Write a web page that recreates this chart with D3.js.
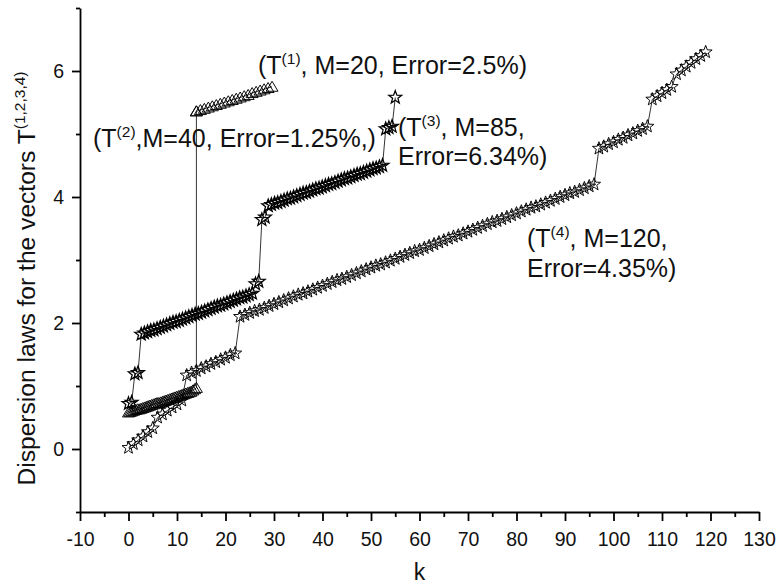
<!DOCTYPE html>
<html>
<head>
<meta charset="utf-8">
<script src="https://cdn.jsdelivr.net/npm/d3@7"></script>
<style>
  html, body { margin: 0; padding: 0; background: #fff; }
  svg { display: block; font-family: "Liberation Sans", Arial, sans-serif; }
</style>
</head>
<body>
<svg id="chart" width="777" height="586"></svg>
<script>
// ---------------- DATA ----------------
const xTicks = [-10, 0, 10, 20, 30, 40, 50, 60, 70, 80, 90, 100, 110, 120, 130];
const xMinorTicks = [-5, 5, 15, 25, 35, 45, 55, 65, 75, 85, 95, 105, 115, 125];
const yTicks = [0, 2, 4, 6];
const yMinorTicks = [-1, 1, 3, 5, 7];

// T(1), M=20 : upper triangles
const t1K = [14.00, 14.82, 15.64, 16.46, 17.28, 18.11, 18.93, 19.75, 20.57, 21.39,
             22.21, 23.03, 23.85, 24.67, 25.49, 26.32, 27.14, 27.96, 28.78, 29.60];
const t1V = [5.36, 5.38, 5.40, 5.42, 5.44, 5.46, 5.48, 5.50, 5.52, 5.54,
             5.56, 5.58, 5.60, 5.62, 5.65, 5.67, 5.69, 5.71, 5.73, 5.75];

// T(2), M=40 : lower triangles, then the jump
const t2K = [0.00, 0.37, 0.74, 1.11, 1.47, 1.84, 2.21, 2.58, 2.95, 3.32,
             3.68, 4.05, 4.42, 4.79, 5.16, 5.53, 5.89, 6.26, 6.63, 7.00,
             7.37, 7.74, 8.11, 8.47, 8.84, 9.21, 9.58, 9.95, 10.32, 10.68,
             11.05, 11.42, 11.79, 12.16, 12.53, 12.89, 13.26, 13.63, 14.00, 14.00];
const t2V = [0.58, 0.59, 0.60, 0.61, 0.62, 0.63, 0.63, 0.64, 0.65, 0.66,
             0.67, 0.68, 0.69, 0.70, 0.71, 0.72, 0.73, 0.73, 0.74, 0.75,
             0.76, 0.77, 0.78, 0.79, 0.80, 0.81, 0.82, 0.83, 0.84, 0.85,
             0.86, 0.87, 0.88, 0.89, 0.90, 0.91, 0.93, 0.95, 0.97, 5.36];

// T(3), M=85 : dense stars
const t3K = [0.00, 0.65, 1.31, 1.96, 2.62, 3.27, 3.93, 4.58, 5.24, 5.89,
             6.55, 7.20, 7.86, 8.51, 9.17, 9.82, 10.48, 11.13, 11.79, 12.44,
             13.10, 13.75, 14.40, 15.06, 15.71, 16.37, 17.02, 17.68, 18.33, 18.99,
             19.64, 20.30, 20.95, 21.61, 22.26, 22.92, 23.57, 24.23, 24.88, 25.54,
             26.19, 26.85, 27.50, 28.15, 28.81, 29.46, 30.12, 30.77, 31.43, 32.08,
             32.74, 33.39, 34.05, 34.70, 35.36, 36.01, 36.67, 37.32, 37.98, 38.63,
             39.29, 39.94, 40.60, 41.25, 41.90, 42.56, 43.21, 43.87, 44.52, 45.18,
             45.83, 46.49, 47.14, 47.80, 48.45, 49.11, 49.76, 50.42, 51.07, 51.73,
             52.38, 53.04, 53.69, 54.35, 55.00];
const t3V = [0.72, 0.74, 1.19, 1.21, 1.82, 1.84, 1.86, 1.88, 1.89, 1.91,
             1.93, 1.95, 1.97, 1.99, 2.01, 2.02, 2.04, 2.06, 2.08, 2.10,
             2.12, 2.14, 2.15, 2.17, 2.19, 2.21, 2.23, 2.25, 2.27, 2.28,
             2.30, 2.32, 2.34, 2.36, 2.38, 2.40, 2.41, 2.43, 2.45, 2.47,
             2.62, 2.66, 3.64, 3.68, 3.86, 3.88, 3.90, 3.91, 3.93, 3.95,
             3.97, 3.98, 4.00, 4.02, 4.04, 4.06, 4.07, 4.09, 4.11, 4.13,
             4.14, 4.16, 4.18, 4.20, 4.21, 4.23, 4.25, 4.27, 4.29, 4.30,
             4.32, 4.34, 4.36, 4.37, 4.39, 4.41, 4.43, 4.45, 4.46, 4.48,
             4.50, 5.08, 5.10, 5.12, 5.58];

// T(4), M=120 : open stars, k = 0..119
const t4V = [0.02, 0.08, 0.14, 0.20, 0.27, 0.33, 0.50, 0.55, 0.61, 0.66,
             0.71, 0.77, 1.17, 1.21, 1.24, 1.28, 1.31, 1.35, 1.38, 1.42,
             1.45, 1.49, 1.52, 2.10, 2.13, 2.16, 2.19, 2.21, 2.24, 2.27,
             2.30, 2.33, 2.36, 2.39, 2.42, 2.45, 2.47, 2.50, 2.53, 2.56,
             2.59, 2.62, 2.65, 2.68, 2.70, 2.73, 2.76, 2.79, 2.82, 2.85,
             2.88, 2.91, 2.93, 2.96, 2.99, 3.02, 3.05, 3.08, 3.11, 3.14,
             3.16, 3.19, 3.22, 3.25, 3.28, 3.31, 3.34, 3.37, 3.39, 3.42,
             3.45, 3.48, 3.51, 3.54, 3.57, 3.60, 3.62, 3.65, 3.68, 3.71,
             3.74, 3.77, 3.80, 3.83, 3.85, 3.88, 3.91, 3.94, 3.97, 4.00,
             4.03, 4.06, 4.08, 4.11, 4.14, 4.17, 4.20, 4.77, 4.80, 4.84,
             4.87, 4.91, 4.94, 4.98, 5.01, 5.05, 5.08, 5.12, 5.55, 5.60,
             5.65, 5.70, 5.75, 5.95, 6.01, 6.07, 6.13, 6.19, 6.24, 6.30];
const t4K = t4V.map((_, i) => i);

// ---------------- CHART ----------------
const svg = d3.select("#chart");
const x = d3.scaleLinear().domain([-10, 130]).range([80, 759]);
const y = d3.scaleLinear().domain([-1, 7]).range([512, 8]);

const FONT = '"Liberation Sans", Arial, sans-serif';

// markers
const triPath = "M0,-5.5L6,4.5L-6,4.5Z";
function starPath(R, r) {
  let p = "";
  for (let i = 0; i < 10; i++) {
    const rad = i % 2 === 0 ? R : r;
    const a = -Math.PI / 2 + i * Math.PI / 5;
    p += (i === 0 ? "M" : "L") + (rad * Math.cos(a)).toFixed(2) + "," + (rad * Math.sin(a)).toFixed(2);
  }
  return p + "Z";
}
const starD = starPath(6.8, 2.8);

const line = d3.line().x(d => x(d[0])).y(d => y(d[1]));
const zip = (ks, vs) => ks.map((k, i) => [k, vs[i]]);

const series = [
  { pts: zip(t4K, t4V), marker: starD, sw: 0.95 },
  { pts: zip(t3K, t3V), marker: starD, sw: 1.25 },
  { pts: zip(t2K, t2V), marker: triPath, sw: 0.95 },
  { pts: zip(t1K, t1V), marker: triPath, sw: 0.95 },
];

const plot = svg.append("g");
series.forEach(s => {
  plot.append("path").datum(s.pts).attr("d", line)
    .attr("fill", "none").attr("stroke", "#000").attr("stroke-width", 0.8);
});
series.forEach(s => {
  plot.append("g").selectAll("path").data(s.pts).join("path")
    .attr("d", s.marker)
    .attr("transform", d => `translate(${x(d[0])},${y(d[1])})`)
    .attr("fill", "none").attr("stroke", "#000").attr("stroke-width", s.sw);
});

// axes
const fmt = d => String(d);
const xAxis = svg.append("g").attr("transform", "translate(0,512)")
  .call(d3.axisBottom(x).tickValues(xTicks).tickSize(9).tickSizeOuter(0).tickPadding(11).tickFormat(fmt));
const xMinor = svg.append("g").attr("transform", "translate(0,512)")
  .call(d3.axisBottom(x).tickValues(xMinorTicks).tickSize(5).tickSizeOuter(0).tickFormat(""));
const yAxis = svg.append("g").attr("transform", "translate(80,0)")
  .call(d3.axisLeft(y).tickValues(yTicks).tickSize(8).tickSizeOuter(0).tickPadding(8).tickFormat(fmt));
const yMinor = svg.append("g").attr("transform", "translate(80,0)")
  .call(d3.axisLeft(y).tickValues(yMinorTicks).tickSize(4).tickSizeOuter(0).tickFormat(""));

[xAxis, xMinor, yAxis, yMinor].forEach(g => {
  g.selectAll("path.domain").attr("stroke", "#000").attr("stroke-width", 1.8);
  g.selectAll(".tick line").attr("stroke", "#000").attr("stroke-width", 1.8);
  g.selectAll(".tick text").attr("fill", "#111").style("font-family", FONT).style("font-size", "19.5px");
});
xMinor.select("path.domain").remove();
yMinor.select("path.domain").remove();

// axis titles
svg.append("text").attr("x", 419.5).attr("y", 580).attr("text-anchor", "middle")
  .style("font-family", FONT).style("font-size", "23px").attr("fill", "#111").text("k");

const yl = svg.append("text").attr("transform", "translate(35,278.5) rotate(-90)")
  .attr("text-anchor", "middle").style("font-family", FONT).style("font-size", "24.6px").attr("fill", "#111");
yl.append("tspan").text("Dispersion laws for the vectors T");
yl.append("tspan").attr("dy", -10).style("font-size", "15.5px").text("(1,2,3,4)");

// annotations
function annot(xp, yp, pre, sup, post) {
  const t = svg.append("text").attr("x", xp).attr("y", yp)
    .style("font-family", FONT).style("font-size", "25px").attr("fill", "#111");
  t.append("tspan").text(pre);
  if (sup) {
    t.append("tspan").attr("dy", -10).style("font-size", "15.5px").text(sup);
    t.append("tspan").attr("dy", 10).text(post);
  }
  return t;
}
annot(258, 74, "(T", "(1)", ", M=20, Error=2.5%)");
annot(93, 147, "(T", "(2)", ",M=40, Error=1.25%,)");
annot(398, 136, "(T", "(3)", ", M=85,");
annot(398, 165, "Error=6.34%)");
annot(527, 247, "(T", "(4)", ", M=120,");
annot(527, 277, "Error=4.35%)");
</script>
</body>
</html>
